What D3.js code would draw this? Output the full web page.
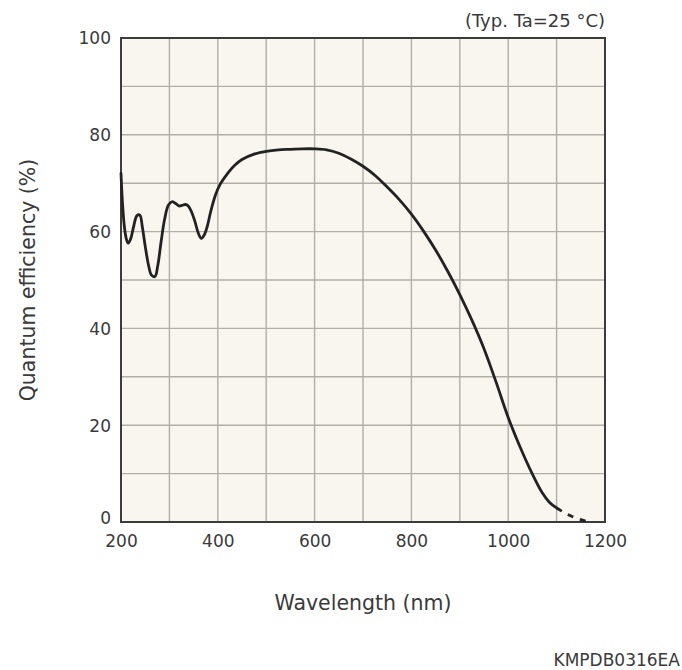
<!DOCTYPE html>
<html>
<head>
<meta charset="utf-8">
<script src="https://cdn.jsdelivr.net/npm/d3@7"></script>
<style>
  html, body { margin: 0; padding: 0; background: #ffffff; }
  svg { display: block; }
  text { font-family: "DejaVu Sans", Verdana, sans-serif; fill: #3a3a3a; }
</style>
</head>
<body>
<svg id="chart" width="682" height="670"></svg>
<script>
// Measured curve (wavelength nm, quantum efficiency %)
const wavelengthSolid = [200,203,207,211,215,220,226,233,239,244,250,257,263,270,276,283,290,298,306,313,320,326,333,339,346,353,360,366,372,378,385,395,405,420,435,450,475,500,525,550,575,600,625,650,675,700,725,750,775,800,825,850,875,900,925,950,975,1000,1025,1050,1070,1085,1100];
const efficiencySolid = [72,66,61,58.5,57.6,58.5,61,63.3,63.4,61,57,53,51,50.7,53,58,62.5,65.5,66.2,65.8,65.3,65.4,65.6,65.3,64,62,59.6,58.6,59.3,61,64,67.5,69.8,72.0,73.7,74.9,76.0,76.6,76.9,77.0,77.1,77.1,76.9,76.2,75.0,73.5,71.6,69.2,66.6,63.6,60.1,56.2,51.8,47.0,41.7,35.8,28.9,21.6,15.4,9.9,6.1,4.1,2.9];
const wavelengthDashed = [1100,1120,1140,1160,1170];
const efficiencyDashed = [2.9,1.7,0.8,0.2,0];

const xDomain = [200, 1200];
const yDomain = [0, 100];
const xTickLabels = [200, 400, 600, 800, 1000, 1200];
const yTickLabels = [0, 20, 40, 60, 80, 100];
const xGrid = d3.range(200, 1201, 100);
const yGrid = d3.range(0, 101, 10);

const texts = {
  xTitle: "Wavelength (nm)",
  yTitle: "Quantum efficiency (%)",
  note: "(Typ. Ta=25 °C)",
  code: "KMPDB0316EA"
};

const svg = d3.select("#chart");
const m = { left: 121, right: 605, top: 38, bottom: 522 };

const x = d3.scaleLinear().domain(xDomain).range([m.left, m.right]);
const y = d3.scaleLinear().domain(yDomain).range([m.bottom, m.top]);

// plot background
svg.append("rect")
  .attr("x", m.left).attr("y", m.top)
  .attr("width", m.right - m.left).attr("height", m.bottom - m.top)
  .attr("fill", "#f8f6ee");

// grid
svg.append("g").selectAll("line").data(xGrid).join("line")
  .attr("x1", d => x(d)).attr("x2", d => x(d))
  .attr("y1", m.top).attr("y2", m.bottom)
  .attr("stroke", "#b0afa8").attr("stroke-width", 1.4);
svg.append("g").selectAll("line").data(yGrid).join("line")
  .attr("y1", d => y(d)).attr("y2", d => y(d))
  .attr("x1", m.left).attr("x2", m.right)
  .attr("stroke", "#b0afa8").attr("stroke-width", 1.4);

// frame
svg.append("rect")
  .attr("x", m.left).attr("y", m.top)
  .attr("width", m.right - m.left).attr("height", m.bottom - m.top)
  .attr("fill", "none").attr("stroke", "#3c3c3c").attr("stroke-width", 2);

// axes labels via d3 axes (no lines)
const xAxis = d3.axisBottom(x).tickValues(xTickLabels).tickFormat(d3.format("d")).tickSize(0).tickPadding(0);
const gx = svg.append("g").attr("transform", `translate(0,${m.bottom})`).call(xAxis);
gx.select(".domain").remove();
gx.selectAll("text")
  .attr("y", 19).attr("dy", "0.35em")
  .style("font-size", "17px").style("font-family", "DejaVu Sans, sans-serif").attr("fill", "#3a3a3a");

const yAxis = d3.axisLeft(y).tickValues(yTickLabels).tickFormat(d3.format("d")).tickSize(0).tickPadding(0);
const gy = svg.append("g").attr("transform", `translate(${m.left - 10},0)`).call(yAxis);
gy.select(".domain").remove();
gy.selectAll("text")
  .attr("dy", "0.35em")
  .style("font-size", "17px").style("font-family", "DejaVu Sans, sans-serif").attr("fill", "#3a3a3a");
gy.selectAll(".tick").filter(d => d === 0).select("text").attr("y", -4);

// curve
const line = d3.line().x(d => x(d[0])).y(d => y(d[1])).curve(d3.curveCatmullRom.alpha(0.5));
const solid = wavelengthSolid.map((w, i) => [w, efficiencySolid[i]]);
const dashed = wavelengthDashed.map((w, i) => [w, efficiencyDashed[i]]);

svg.append("path").datum(solid)
  .attr("d", line).attr("fill", "none")
  .attr("stroke", "#222").attr("stroke-width", 2.8)
  .attr("stroke-linejoin", "round").attr("stroke-linecap", "round");
svg.append("path").datum(dashed)
  .attr("d", line).attr("fill", "none")
  .attr("stroke", "#222").attr("stroke-width", 2.8)
  .attr("stroke-dasharray", "6,7");

// titles
svg.append("text")
  .attr("x", (m.left + m.right) / 2).attr("y", 610)
  .attr("text-anchor", "middle").style("font-size", "20.5px")
  .text(texts.xTitle);
svg.append("text")
  .attr("transform", `translate(35,${(m.top + m.bottom) / 2}) rotate(-90)`)
  .attr("text-anchor", "middle").style("font-size", "20.5px")
  .text(texts.yTitle);
svg.append("text")
  .attr("x", m.right).attr("y", 27)
  .attr("text-anchor", "end").style("font-size", "18px")
  .text(texts.note);
svg.append("text")
  .attr("x", 680).attr("y", 666)
  .attr("text-anchor", "end").style("font-size", "17px")
  .text(texts.code);
</script>
</body>
</html>
